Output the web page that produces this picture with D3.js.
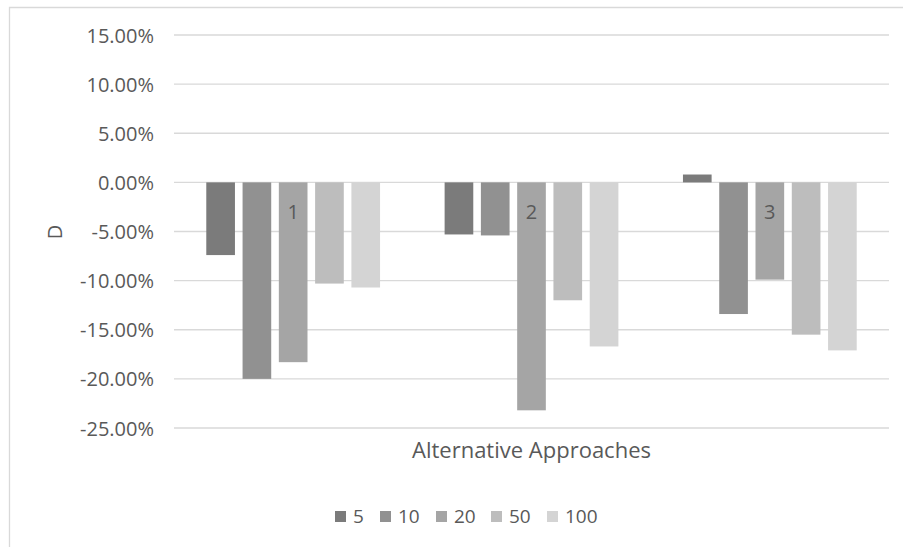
<!DOCTYPE html>
<html><head><meta charset="utf-8">
<script src="https://cdn.jsdelivr.net/npm/d3@7"></script>
<style>
body{margin:0;background:#fff;}
text{font-family:"Open Sans",sans-serif;fill:#595959;}
</style></head>
<body><svg id="c" width="903" height="547"></svg>
<script>
const categories = ["1","2","3"];
const seriesNames = ["5","10","20","50","100"];
const values5   = [-0.074, -0.053, 0.008];
const values10  = [-0.200, -0.054, -0.134];
const values20  = [-0.183, -0.232, -0.099];
const values50  = [-0.103, -0.120, -0.155];
const values100 = [-0.107, -0.167, -0.171];
const seriesValues = [values5, values10, values20, values50, values100];
const colors = ["#7b7b7b","#919191","#a5a5a5","#bdbdbd","#d4d4d4"];
const yTicks = [0.15,0.10,0.05,0,-0.05,-0.10,-0.15,-0.20,-0.25];

const svg = d3.select("#c");
svg.append("path").attr("d","M9.5,547 L9.5,7.5 L903,7.5").attr("fill","none").attr("stroke","#d9d9d9").attr("stroke-width",1.3);

const L=174, R=889;
const y = d3.scaleLinear().domain([-0.25,0.15]).range([428,35]);
const x0 = d3.scaleBand().domain(categories).range([L,R]).padding(0);
const x1 = d3.scaleBand().domain(seriesNames).range([0,x0.bandwidth()]).paddingInner(0.21).paddingOuter(0.89);

svg.append("g").selectAll("line").data(yTicks).join("line")
  .attr("x1",L).attr("x2",R).attr("y1",d=>y(d)).attr("y2",d=>y(d))
  .attr("stroke","#d9d9d9").attr("stroke-width",1.3);

const yAxis = d3.axisLeft(y).tickValues(yTicks).tickFormat(d=>(d*100).toFixed(2)+"%").tickSize(0).tickPadding(0);
const ga = svg.append("g").attr("transform",`translate(${L-20},0)`).call(yAxis);
ga.select(".domain").remove();
ga.selectAll("text").attr("font-size",20).attr("fill","#595959").attr("font-family","Open Sans").attr("dy","0.35em");

const data = [];
seriesNames.forEach((s,i)=>categories.forEach((c,j)=>data.push({s,c,v:seriesValues[i][j],col:colors[i]})));
svg.append("g").selectAll("rect").data(data).join("rect")
  .attr("x",d=>x0(d.c)+x1(d.s))
  .attr("width",x1.bandwidth())
  .attr("y",d=>y(Math.max(0,d.v)))
  .attr("height",d=>Math.abs(y(d.v)-y(0)))
  .attr("fill",d=>d.col);

svg.append("g").selectAll("text").data(categories).join("text")
  .attr("x",d=>x0(d)+x0.bandwidth()/2).attr("y",y(0)+37)
  .attr("text-anchor","middle").attr("font-size",20).text(d=>d);

svg.append("text").attr("x",(L+R)/2).attr("y",458).attr("text-anchor","middle").attr("font-size",22).text("Alternative Approaches");
svg.append("text").attr("transform","translate(62,232) rotate(-90)").attr("text-anchor","middle").attr("font-size",20).text("D");

const legX = [335,380,436,491,547];
const lg = svg.append("g").selectAll("g").data(seriesNames).join("g")
  .attr("transform",(d,i)=>`translate(${legX[i]},511)`);
lg.append("rect").attr("width",11).attr("height",11).attr("fill",(d,i)=>colors[i]);
lg.append("text").attr("x",18).attr("y",12).attr("font-size",19).text(d=>d);
</script></body></html>
